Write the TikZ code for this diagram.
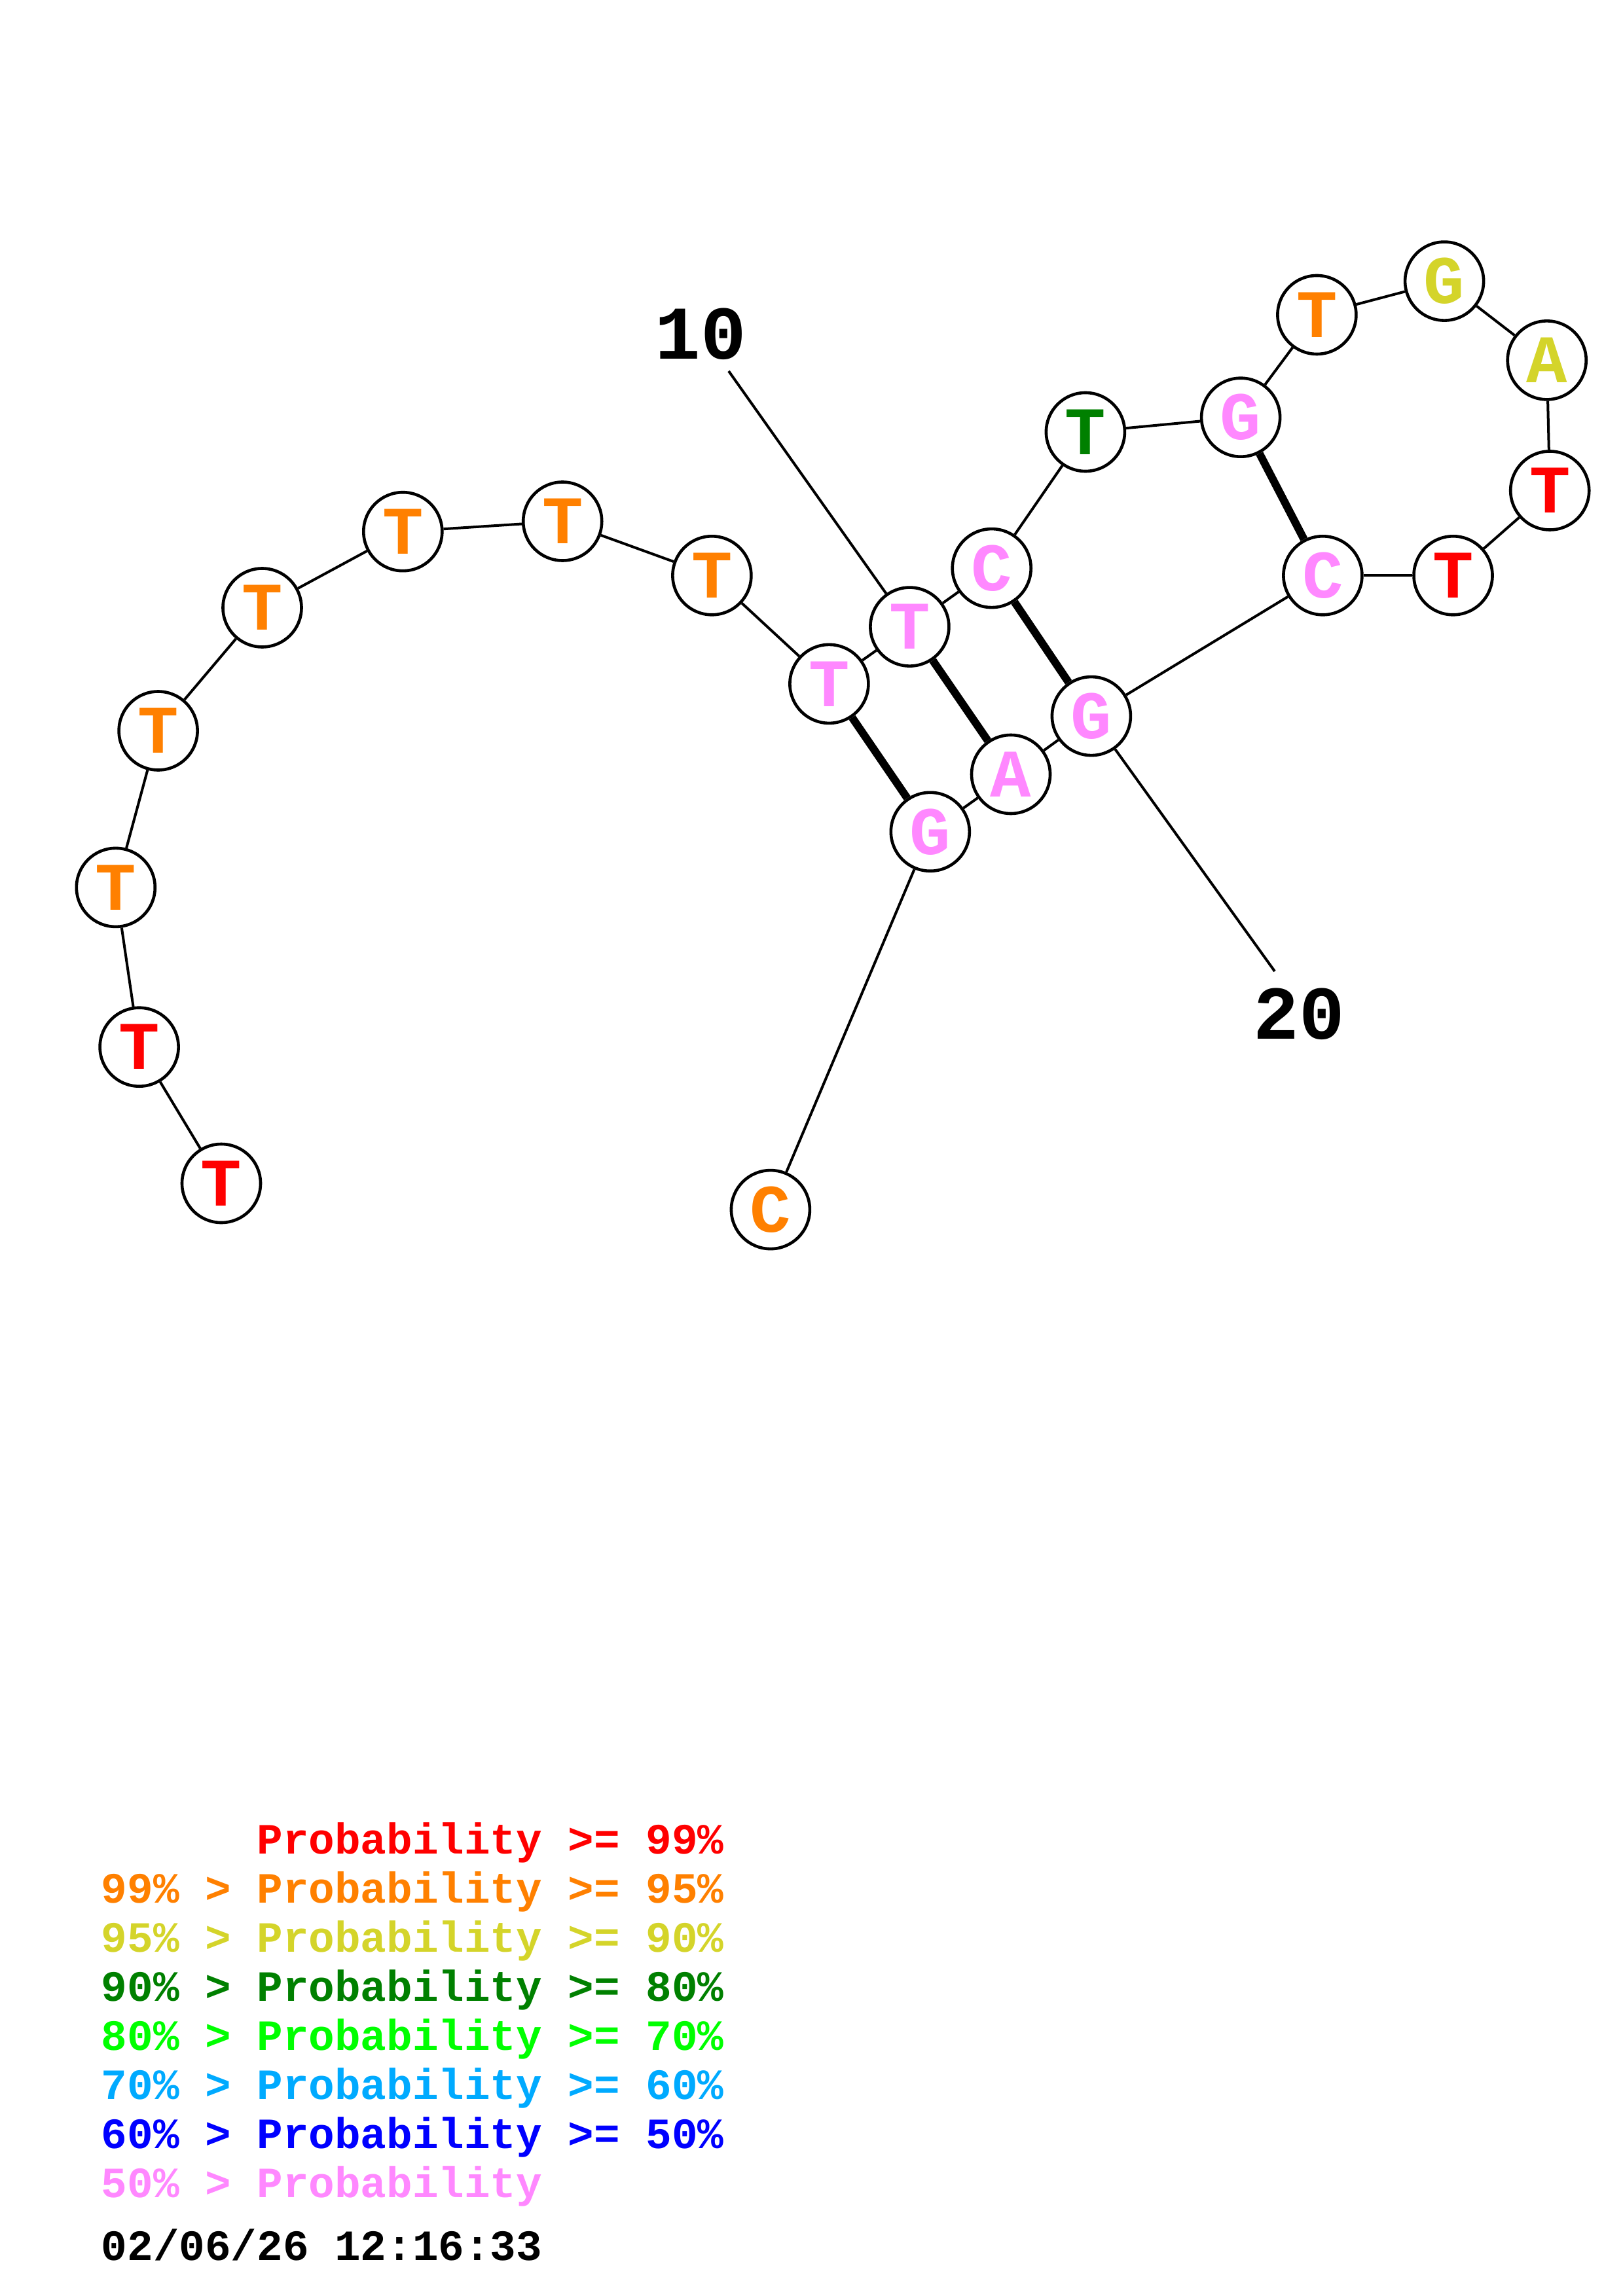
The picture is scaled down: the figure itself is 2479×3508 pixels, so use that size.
\documentclass[tikz,border=0pt]{standalone}
\usepackage{fontspec}
\newfontfamily\monob{Liberation Mono}
\definecolor{pR}{RGB}{255,0,0}
\definecolor{pO}{RGB}{255,128,0}
\definecolor{pY}{RGB}{212,212,42}
\definecolor{pDG}{RGB}{0,128,0}
\definecolor{pG}{RGB}{0,255,0}
\definecolor{pLB}{RGB}{0,170,255}
\definecolor{pB}{RGB}{0,0,255}
\definecolor{pP}{RGB}{255,136,255}
\tikzset{
  nt/.style={circle, draw=black, line width=1.15pt, fill=white, minimum size=30pt, inner sep=0pt,
    font=\monob\bfseries\fontsize{26}{26}\selectfont},
  bb/.style={line width=1pt},
  bp/.style={line width=3pt},
  numlab/.style={font=\monob\bfseries\fontsize{29}{29}\selectfont, inner sep=0pt},
  leg/.style={anchor=base west, inner sep=0pt, font=\monob\bfseries\fontsize{16.5}{16.5}\selectfont}
}
\begin{document}
\begin{tikzpicture}[x=0.25pt,y=-0.25pt]
\useasboundingbox (0,0) rectangle (2479,3508);
% nucleotides
\node[nt, text=pR]  (n1)  at (338,1808) {T};
\node[nt, text=pR]  (n2)  at (212.6,1599.7) {T};
\node[nt, text=pO]  (n3)  at (176.8,1355.9) {T};
\node[nt, text=pO]  (n4)  at (241.6,1116.5) {T};
\node[nt, text=pO]  (n5)  at (400.5,928.5) {T};
\node[nt, text=pO]  (n6)  at (615.3,812.2) {T};
\node[nt, text=pO]  (n7)  at (859.2,796.5) {T};
\node[nt, text=pO]  (n8)  at (1087.4,879.3) {T};
\node[nt, text=pP]  (n9)  at (1266.4,1044.9) {T};
\node[nt, text=pP]  (n10) at (1389.4,957.6) {T};
\node[nt, text=pP]  (n11) at (1514.7,868.1) {C};
\node[nt, text=pDG] (n12) at (1657.9,660.0) {T};
\node[nt, text=pP]  (n13) at (1895.1,637.7) {G};
\node[nt, text=pO]  (n14) at (2011.4,481.0) {T};
\node[nt, text=pY]  (n15) at (2206.1,429.6) {G};
\node[nt, text=pY]  (n16) at (2362.7,550.4) {A};
\node[nt, text=pR]  (n17) at (2367.2,749.5) {T};
\node[nt, text=pR]  (n18) at (2219.5,879.3) {T};
\node[nt, text=pP]  (n19) at (2020.4,879.3) {C};
\node[nt, text=pP]  (n20) at (1666.9,1094.1) {G};
\node[nt, text=pP]  (n21) at (1544,1183) {A};
\node[nt, text=pP]  (n22) at (1420.8,1270.8) {G};
\node[nt, text=pO]  (n23) at (1176.9,1848.1) {C};
% backbone
\foreach \a/\b in {1/2,2/3,3/4,4/5,5/6,6/7,7/8,8/9,9/10,10/11,11/12,12/13,13/14,14/15,15/16,16/17,17/18,18/19,19/20,20/21,21/22,22/23}
  \draw[bb] (n\a) -- (n\b);
% base pairs
\draw[bp] (n9) -- (n22);
\draw[bp] (n10) -- (n21);
\draw[bp] (n11) -- (n20);
\draw[bp] (n13) -- (n19);
% numbering
\node[numlab] (lab10) at (1070,510) {10};
\node[numlab] (lab20) at (1984,1549) {20};
\coordinate (e10) at (1113,567);
\coordinate (e20) at (1947,1484);
\draw[bb] (e10) -- (n10);
\draw[bb] (n20) -- (e20);
% legend
\node[leg, text=pR]  (g1) at (154,2832) {\hphantom{99\% > }Probability >= 99\%};
\node[leg, text=pO]  (g2) at (154,2907) {99\% > Probability >= 95\%};
\node[leg, text=pY]  (g3) at (154,2982) {95\% > Probability >= 90\%};
\node[leg, text=pDG] (g4) at (154,3057) {90\% > Probability >= 80\%};
\node[leg, text=pG]  (g5) at (154,3132) {80\% > Probability >= 70\%};
\node[leg, text=pLB] (g6) at (154,3207) {70\% > Probability >= 60\%};
\node[leg, text=pB]  (g7) at (154,3282) {60\% > Probability >= 50\%};
\node[leg, text=pP]  (g8) at (154,3357) {50\% > Probability};
\node[leg, text=black] (date) at (154,3453) {02/06/26 12:16:33};
\end{tikzpicture}
\end{document}
